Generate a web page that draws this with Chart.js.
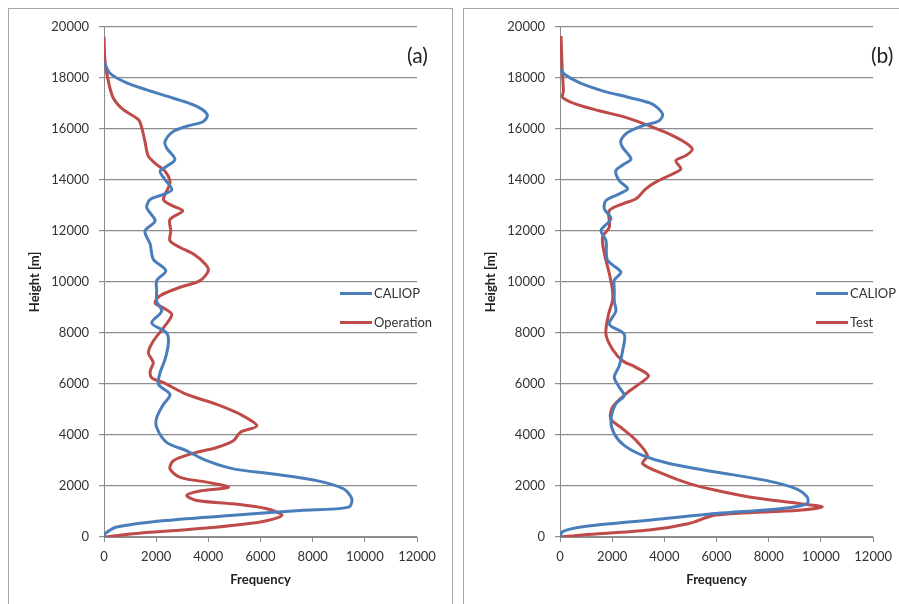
<!DOCTYPE html>
<html>
<head>
<meta charset="utf-8">
<script src="https://cdn.jsdelivr.net/npm/chart.js@4.4.0/dist/chart.umd.min.js"></script>
<style>
    body { margin: 0; background: #fff; width: 899px; height: 604px; overflow: hidden; position: relative; font-family: Lato, "Open Sans", sans-serif; }
    .panel { position: absolute; top: 8px; height: 640px; border: 1.5px solid #a6a6a6; box-sizing: border-box; }
    canvas { position: absolute; }
    .tag { position: absolute; font-size: 21px; line-height: 24px; color: #222; }
    .leg { position: absolute; font-size: 13px; line-height: 16px; color: #333; white-space: nowrap; }
    .leg span { display: inline-block; width: 32px; height: 3px; vertical-align: middle; margin-right: 2px; position: relative; top: -1px; }
</style>
</head>
<body>
<div class="panel" style="left:8px; width:445px;"></div>
<div class="panel" style="left:463px; width:460px;"></div>

<canvas id="chartA" width="441" height="594" style="left:9px; top:9px; width:441px; height:594px;"></canvas>
<canvas id="chartB" width="434" height="594" style="left:465px; top:9px; width:434px; height:594px;"></canvas>

<div class="tag" style="left:407px; top:43px;">(a)</div>
<div class="tag" style="left:871px; top:43px;">(b)</div>

<div class="leg" style="left:340px; top:285px;"><span style="background:#4a7ebb"></span>CALIOP</div>
<div class="leg" style="left:340px; top:314px;"><span style="background:#be4b48"></span>Operation</div>
<div class="leg" style="left:816px; top:285px;"><span style="background:#4a7ebb"></span>CALIOP</div>
<div class="leg" style="left:816px; top:314px;"><span style="background:#be4b48"></span>Test</div>

<script>
// Axis ticks
const heightTicks = [0, 2000, 4000, 6000, 8000, 10000, 12000, 14000, 16000, 18000, 20000];
const freqTicks = [0, 2000, 4000, 6000, 8000, 10000, 12000];

// Panel (a) - CALIOP
const caliopHeightA = [18630, 18180, 17800, 17530, 17200, 16880, 16550, 16290, 16100, 15900, 15510, 15250, 14800, 14530, 14340, 14010, 13620, 13430, 13230, 12910, 12390, 12000, 11480, 10890, 10440, 10050, 9660, 9240, 8850, 8390, 8000, 7610, 6960, 6440, 5980, 5590, 5200, 4680, 4290, 3710, 3380, 2990, 2670, 2470, 2210, 1890, 1500, 1170, 1040, 850, 650, 390, 130, 0];
const caliopFreqA = [0, 230, 870, 1640, 2660, 3560, 3960, 3810, 3170, 2660, 2340, 2400, 2720, 2400, 2150, 2340, 2600, 2280, 1770, 1640, 1960, 1570, 1770, 1890, 2370, 2020, 2020, 2020, 2210, 1830, 2400, 2470, 2340, 2150, 2090, 2530, 2280, 2020, 2020, 2400, 3170, 3940, 4960, 6500, 8160, 9180, 9500, 9380, 7520, 4960, 2400, 490, 40, 0];

// Panel (a) - Operation
const operationHeight = [19610, 18630, 17850, 17200, 16750, 16360, 16030, 15510, 14930, 14600, 14340, 13890, 13230, 12970, 12780, 12450, 12000, 11610, 11350, 11090, 10700, 10440, 10050, 9790, 9460, 9170, 8980, 8720, 8200, 7680, 7220, 6830, 6500, 6240, 6050, 5590, 5200, 4810, 4360, 4100, 3770, 3510, 3250, 2990, 2670, 2340, 2150, 1950, 1800, 1630, 1430, 1300, 1110, 850, 590, 330, 130, 0];
const operationFreq = [0, 40, 170, 360, 740, 1320, 1450, 1570, 1700, 2020, 2340, 2530, 2280, 2660, 3020, 2530, 2560, 2530, 2920, 3430, 3880, 4000, 3680, 2920, 2150, 1960, 2280, 2600, 2280, 1890, 1700, 1890, 1770, 1830, 2280, 3170, 4320, 5220, 5860, 5220, 4960, 4320, 3300, 2660, 2530, 2920, 3940, 4770, 3680, 3170, 3550, 4960, 6240, 6820, 5990, 3680, 1130, 0];

// Panel (b) - CALIOP
const caliopHeightB = [18330, 18140, 17810, 17490, 17230, 16970, 16580, 16320, 16120, 15860, 15530, 15270, 14820, 14620, 14360, 13970, 13650, 13450, 13190, 12860, 12470, 12020, 11630, 10850, 10390, 10070, 9680, 9250, 8860, 8340, 7950, 7300, 6710, 6260, 5870, 5540, 5220, 4570, 4050, 3590, 3200, 2880, 2550, 2220, 1900, 1570, 1310, 1120, 920, 660, 400, 210, 0];
const caliopFreqB = [40, 170, 740, 1630, 2650, 3540, 3930, 3800, 3160, 2590, 2330, 2400, 2720, 2460, 2140, 2270, 2590, 2270, 1760, 1700, 1950, 1570, 1760, 1820, 2330, 2080, 2080, 2080, 2140, 1890, 2460, 2400, 2270, 2080, 2270, 2460, 2140, 1950, 2080, 2460, 3160, 4180, 5970, 7880, 9030, 9470, 9470, 8520, 5970, 3420, 870, 100, 0];

// Panel (b) - Test
const testHeight = [19640, 18400, 17490, 17230, 16970, 16710, 16450, 16120, 15860, 15530, 15210, 14950, 14750, 14430, 14230, 13910, 13650, 13260, 13060, 12800, 12150, 11760, 11110, 10330, 9680, 9250, 8730, 7950, 7360, 6910, 6650, 6320, 6000, 5610, 5090, 4630, 4240, 3790, 3200, 2880, 2480, 2090, 1830, 1570, 1310, 1180, 1050, 860, 530, 270, 80, 0];
const testFreq = [40, 80, 130, 100, 610, 1500, 2520, 3420, 4050, 4690, 5070, 4820, 4440, 4630, 4310, 3670, 3290, 2910, 2400, 1890, 1890, 1630, 1700, 1890, 2010, 2010, 1860, 1760, 2010, 2400, 2910, 3390, 3040, 2520, 2010, 1950, 2400, 2910, 3350, 3160, 3930, 4950, 5970, 7240, 9160, 10050, 9160, 5970, 4950, 3420, 870, 0];

const blue = '#4a7ebb';
const red = '#be4b48';
const gridColor = '#8c8c8c';
const tickFont = { family: 'Lato', size: 13 };
const titleFont = { family: 'Lato', size: 13, weight: 'bold' };

function toPoints(freqs, heights) {
    return freqs.map((f, i) => ({ x: f, y: heights[i] }));
}

function makeChart(id, caliopFreq, caliopHeight, otherFreq, otherHeight, otherLabel, rightPad) {
    new Chart(document.getElementById(id), {
        type: 'scatter',
        data: {
            datasets: [{
                label: 'CALIOP',
                data: toPoints(caliopFreq, caliopHeight),
                borderColor: blue,
                borderWidth: 3,
                showLine: true,
                pointRadius: 0,
                tension: 0.3
            }, {
                label: otherLabel,
                data: toPoints(otherFreq, otherHeight),
                borderColor: red,
                borderWidth: 3,
                showLine: true,
                pointRadius: 0,
                tension: 0.3
            }]
        },
        options: {
            responsive: false,
            animation: false,
            layout: {
                padding: { left: 18, top: 16, right: rightPad, bottom: 0 }
            },
            plugins: {
                legend: { display: false },
                tooltip: { enabled: false }
            },
            scales: {
                x: {
                    type: 'linear',
                    min: 0,
                    max: 12000,
                    afterBuildTicks: axis => { axis.ticks = freqTicks.map(v => ({ value: v })); },
                    afterFit: scale => { scale.height = 66; },
                    grid: { drawOnChartArea: false, drawTicks: true, tickLength: 5, color: gridColor },
                    border: { color: gridColor },
                    ticks: { font: tickFont, color: '#333', padding: 7, maxRotation: 0, callback: v => String(v) },
                    title: { display: true, text: 'Frequency', font: titleFont, color: '#222', padding: { top: 0, bottom: 15 } }
                },
                y: {
                    type: 'linear',
                    min: 0,
                    max: 20000,
                    afterBuildTicks: axis => { axis.ticks = heightTicks.map(v => ({ value: v })); },
                    afterFit: scale => { scale.width = 77; },
                    grid: { drawTicks: true, tickLength: 5, color: gridColor, lineWidth: 1.2 },
                    border: { color: gridColor },
                    ticks: { font: tickFont, color: '#333', padding: 10, callback: v => String(v) },
                    title: { display: true, text: 'Height [m]', font: titleFont, color: '#222', padding: { top: 0, bottom: 0 } }
                }
            }
        }
    });
}

makeChart('chartA', caliopFreqA, caliopHeightA, operationFreq, operationHeight, 'Operation', 33);
makeChart('chartB', caliopFreqB, caliopHeightB, testFreq, testHeight, 'Test', 25);
</script>
</body>
</html>
